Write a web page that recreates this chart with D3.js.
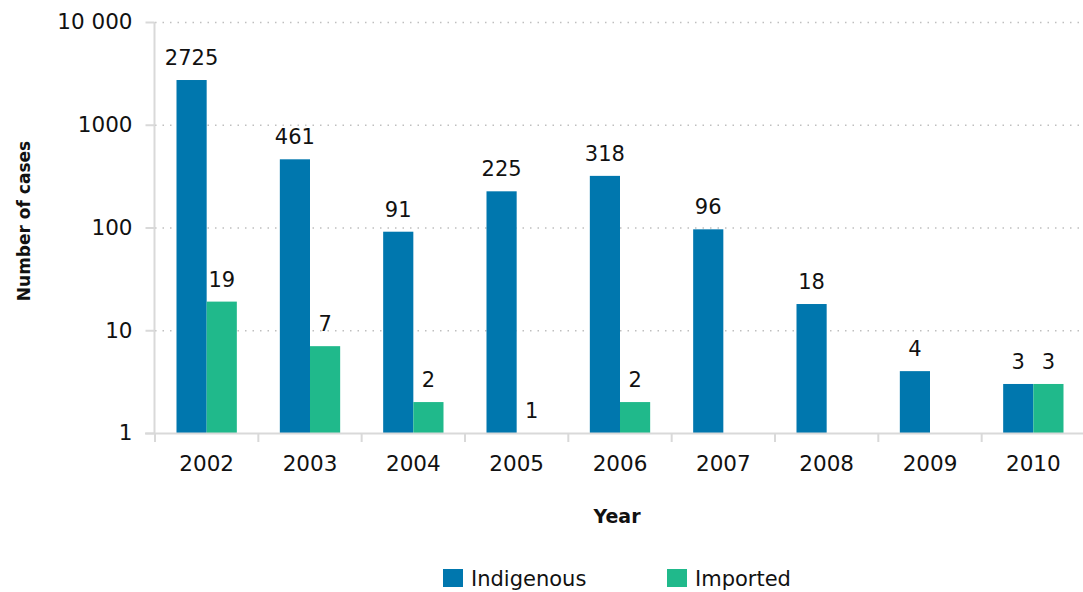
<!DOCTYPE html>
<html>
<head>
<meta charset="utf-8">
<script src="https://cdn.jsdelivr.net/npm/d3@7"></script>
<style>
  body { margin: 0; background: #fff; }
  svg { display: block; font-family: "DejaVu Sans", sans-serif; }
</style>
</head>
<body>
<svg id="chart" width="1083" height="592"></svg>
<script>
const years = ["2002", "2003", "2004", "2005", "2006", "2007", "2008", "2009", "2010"];
const indigenous = [2725, 461, 91, 225, 318, 96, 18, 4, 3];
const imported = [19, 7, 2, 1, 2, null, null, null, 3];
const seriesNames = ["Indigenous", "Imported"];
const seriesColors = ["#0077ae", "#20b98b"];
const yTicks = [1, 10, 100, 1000, 10000];
const yTickLabels = ["1", "10", "100", "1000", "10 000"];

const svg = d3.select("#chart");
const plotLeft = 155, plotRight = 1085, plotTop = 22, plotBottom = 433;
const textColor = "#111";

const x = d3.scaleBand().domain(years).range([plotLeft, plotRight]);
const xInner = d3.scaleBand().domain(seriesNames).range([21.5, x.bandwidth() - 21.5]);
const y = d3.scaleLog().domain([1, 10000]).range([plotBottom, plotTop]);

// dotted gridlines
svg.append("g").selectAll("line").data(yTicks.slice(1)).join("line")
  .attr("x1", plotLeft).attr("x2", 1083)
  .attr("y1", d => y(d) + 0.5).attr("y2", d => y(d) + 0.5)
  .attr("stroke", "#bfbfbf").attr("stroke-width", 1.3)
  .attr("stroke-dasharray", "1.5,6");

// y axis
const yAxis = svg.append("g").attr("transform", `translate(${plotLeft - 0.5},0)`)
  .call(d3.axisLeft(y).tickValues(yTicks).tickFormat((d, i) => yTickLabels[i]).tickSize(9).tickPadding(13));
yAxis.select(".domain").attr("stroke", "#d9d9d9").attr("stroke-width", 2).attr("d", `M0,${plotTop}V${plotBottom}`);
yAxis.selectAll(".tick line").attr("stroke", "#d9d9d9").attr("stroke-width", 2);
yAxis.selectAll(".tick text").attr("font-size", 21.5).attr("fill", textColor).attr("font-family", "DejaVu Sans, sans-serif");

// bars
const rows = years.map((yr, i) => ({ year: yr, values: [indigenous[i], imported[i]] }));
const groups = svg.append("g").selectAll("g").data(rows).join("g")
  .attr("transform", d => `translate(${x(d.year)},0)`);

groups.selectAll("rect")
  .data(d => d.values.map((v, j) => ({ v, s: seriesNames[j], c: seriesColors[j] })).filter(e => e.v != null))
  .join("rect")
  .attr("x", e => xInner(e.s))
  .attr("width", xInner.bandwidth())
  .attr("y", e => y(e.v))
  .attr("height", e => plotBottom - y(e.v))
  .attr("fill", e => e.c);

groups.selectAll("text")
  .data(d => d.values.map((v, j) => ({ v, s: seriesNames[j] })).filter(e => e.v != null))
  .join("text")
  .attr("x", e => xInner(e.s) + xInner.bandwidth() / 2)
  .attr("y", e => y(e.v) - 15)
  .attr("text-anchor", "middle")
  .attr("font-size", 21)
  .attr("fill", textColor)
  .text(e => e.v);

// x axis
const xAxis = svg.append("g").attr("transform", `translate(0,${plotBottom + 0.5})`)
  .call(d3.axisBottom(x).tickSize(0).tickPadding(22));
xAxis.select(".domain").attr("stroke", "#d9d9d9").attr("stroke-width", 2).attr("d", `M${plotLeft - 10},0H1083`);
xAxis.selectAll(".tick text").attr("font-size", 21.5).attr("fill", textColor).attr("font-family", "DejaVu Sans, sans-serif");
svg.append("g").selectAll("line").data(years).join("line")
  .attr("x1", d => x(d)).attr("x2", d => x(d))
  .attr("y1", plotBottom).attr("y2", plotBottom + 9)
  .attr("stroke", "#d9d9d9").attr("stroke-width", 2);

// axis titles
svg.append("text").attr("x", 617).attr("y", 523)
  .attr("text-anchor", "middle").attr("font-size", 19).attr("font-weight", "bold").attr("fill", textColor)
  .text("Year");
svg.append("text").attr("transform", `translate(30,221) rotate(-90)`)
  .attr("text-anchor", "middle").attr("font-size", 17).attr("font-weight", "bold").attr("fill", textColor)
  .text("Number of cases");

// legend
const legendX = [443, 667];
const legend = svg.append("g").selectAll("g").data(seriesNames).join("g")
  .attr("transform", (d, i) => `translate(${legendX[i]},569)`);
legend.append("rect").attr("width", 20).attr("height", 18).attr("fill", (d, i) => seriesColors[i]);
legend.append("text").attr("x", 28).attr("y", 17).attr("font-size", 21).attr("fill", textColor).text(d => d);
</script>
</body>
</html>
